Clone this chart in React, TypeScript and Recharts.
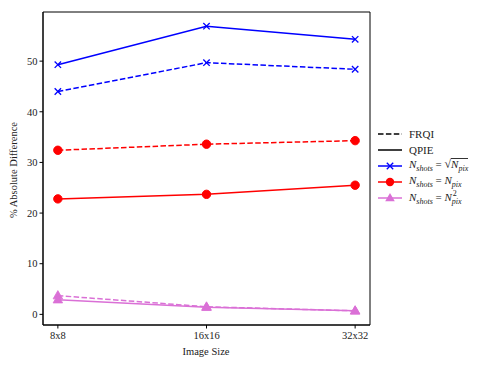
import React from 'react';
import { LineChart, Line, XAxis, YAxis, Legend, Label, ReferenceArea } from 'recharts';

const categories = ['8x8', '16x16', '32x32'];
const yTicks = [0, 10, 20, 30, 40, 50];
const qpieSqrt = [49.3, 56.9, 54.3];
const frqiSqrt = [44.0, 49.7, 48.4];
const qpieLin = [22.8, 23.7, 25.5];
const frqiLin = [32.4, 33.6, 34.3];
const qpieSq = [2.9, 1.4, 0.7];
const frqiSq = [3.7, 1.5, 0.7];

const data = categories.map((c, i) => ({
  idx: i,
  cat: c,
  qpieSqrt: qpieSqrt[i],
  frqiSqrt: frqiSqrt[i],
  qpieLin: qpieLin[i],
  frqiLin: frqiLin[i],
  qpieSq: qpieSq[i],
  frqiSq: frqiSq[i],
}));

const X_DOMAIN: [number, number] = [-0.1, 2.1];
const Y_DOMAIN: [number, number] = [-2.1, 59.7];

const BLUE = '#0000ff';
const RED = '#ff0000';
const PINK = '#da70d6';
const FONT = '"Liberation Serif", "DejaVu Serif", serif';
const DASH = '5.5 2.4';

const XMark = (props: any) => {
  const { cx, cy } = props;
  if (cx == null || cy == null) return <g />;
  const s = 3.2;
  return (
    <g>
      <line x1={cx - s} y1={cy - s} x2={cx + s} y2={cy + s} stroke={BLUE} strokeWidth={1.3} />
      <line x1={cx - s} y1={cy + s} x2={cx + s} y2={cy - s} stroke={BLUE} strokeWidth={1.3} />
    </g>
  );
};

const CircleMark = (props: any) => {
  const { cx, cy } = props;
  if (cx == null || cy == null) return <g />;
  return <circle cx={cx} cy={cy} r={4.2} fill={RED} stroke={RED} />;
};

const TriMark = (props: any) => {
  const { cx, cy } = props;
  if (cx == null || cy == null) return <g />;
  const r = 5;
  const pts = `${cx},${cy - r} ${cx - r * 0.95},${cy + r * 0.65} ${cx + r * 0.95},${cy + r * 0.65}`;
  return <polygon points={pts} fill={PINK} stroke={PINK} strokeWidth={0.8} />;
};

const Sub = ({ children }: any) => (
  <span style={{ fontSize: 8, verticalAlign: -2.5 }}>{children}</span>
);

const legendRows = [
  { key: 'frqi', color: '#000', dash: DASH, marker: null, label: <span>FRQI</span> },
  { key: 'qpie', color: '#000', dash: undefined, marker: null, label: <span>QPIE</span> },
  {
    key: 'sqrt', color: BLUE, dash: undefined, marker: 'x',
    label: (
      <span>
        <i>N</i><Sub><i>shots</i></Sub> = <span style={{ fontSize: 12 }}>√</span>
        <span style={{ borderTop: '0.8px solid #333', display: 'inline-block', lineHeight: '11px' }}><i>N</i><Sub><i>pix</i></Sub></span>
      </span>
    ),
  },
  {
    key: 'lin', color: RED, dash: undefined, marker: 'o',
    label: (<span><i>N</i><Sub><i>shots</i></Sub> = <i>N</i><Sub><i>pix</i></Sub></span>),
  },
  {
    key: 'sq', color: PINK, dash: undefined, marker: '^',
    label: (
      <span>
        <i>N</i><Sub><i>shots</i></Sub> = <i>N</i>
        <span style={{ display: 'inline-block', width: 0, fontSize: 8, verticalAlign: 4.5, overflow: 'visible', lineHeight: '8px' }}>
          <span style={{ paddingLeft: 1 }}>2</span>
        </span>
        <Sub><i>pix</i></Sub>
      </span>
    ),
  },
];

const renderLegend = () => (
  <div style={{ fontFamily: FONT, fontSize: 11, color: '#222' }}>
    {legendRows.map((r) => (
      <div key={r.key} style={{ display: 'flex', alignItems: 'center', height: 15.9 }}>
        <svg width={28} height={12} style={{ flex: 'none' }}>
          <line x1={2} y1={6} x2={26} y2={6} stroke={r.color} strokeWidth={1.5} strokeDasharray={r.dash} />
          {r.marker === 'x' && (
            <g>
              <line x1={10.8} y1={2.8} x2={17.2} y2={9.2} stroke={BLUE} strokeWidth={1.3} />
              <line x1={10.8} y1={9.2} x2={17.2} y2={2.8} stroke={BLUE} strokeWidth={1.3} />
            </g>
          )}
          {r.marker === 'o' && <circle cx={14} cy={6} r={4.2} fill={RED} />}
          {r.marker === '^' && <polygon points="14,1 9.2,9.3 18.8,9.3" fill={PINK} />}
        </svg>
        <div style={{ marginLeft: 5, whiteSpace: 'nowrap' }}>{r.label}</div>
      </div>
    ))}
  </div>
);

const tickStyle = { fontSize: 10.5, fill: '#222', style: { fontFamily: FONT } };

export default function App() {
  return (
    <div style={{ position: 'absolute', left: 0, top: 0, background: '#fff', fontFamily: FONT }}>
      <LineChart
        width={490}
        height={368}
        data={data}
        margin={{ top: 12, right: 120, bottom: 0, left: 0 }}
        style={{ fontFamily: FONT }}
      >
        <XAxis
          dataKey="idx"
          type="number"
          domain={X_DOMAIN}
          ticks={[0, 1, 2]}
          tickFormatter={(v: number) => categories[v]}
          height={43}
          tickSize={3.5}
          tickMargin={3}
          axisLine={{ stroke: '#000', strokeWidth: 1 }}
          tickLine={{ stroke: '#000' }}
          tick={tickStyle}
          allowDataOverflow
        >
          <Label
            content={() => (
              <text x={206} y={355} textAnchor="middle" fontSize={10.5} fill="#222" style={{ fontFamily: FONT }}>
                Image Size
              </text>
            )}
          />
        </XAxis>
        <YAxis
          type="number"
          domain={Y_DOMAIN}
          ticks={yTicks}
          width={43}
          tickSize={3.5}
          tickMargin={2}
          axisLine={{ stroke: '#000', strokeWidth: 1 }}
          tickLine={{ stroke: '#000' }}
          tick={tickStyle}
          allowDataOverflow
        >
          <Label
            content={() => (
              <text x={17} y={170} textAnchor="middle" transform="rotate(-90 17 170)" fontSize={10.5} fill="#222" style={{ fontFamily: FONT }}>
                % Absolute Difference
              </text>
            )}
          />
        </YAxis>
        <ReferenceArea x1={X_DOMAIN[0]} x2={X_DOMAIN[1]} y1={Y_DOMAIN[0]} y2={Y_DOMAIN[1]} fill="none" fillOpacity={0} stroke="#000" strokeWidth={1} ifOverflow="visible" />
        <Legend
          layout="horizontal"
          align="center"
          verticalAlign="middle"
          content={renderLegend}
          wrapperStyle={{ left: 376, top: 126, width: 114, bottom: 'auto' }}
        />
        <Line dataKey="qpieSqrt" stroke={BLUE} strokeWidth={1.5} dot={<XMark />} isAnimationActive={false} />
        <Line dataKey="frqiSqrt" stroke={BLUE} strokeWidth={1.5} strokeDasharray={DASH} dot={<XMark />} isAnimationActive={false} />
        <Line dataKey="frqiLin" stroke={RED} strokeWidth={1.5} strokeDasharray={DASH} dot={<CircleMark />} isAnimationActive={false} />
        <Line dataKey="qpieLin" stroke={RED} strokeWidth={1.5} dot={<CircleMark />} isAnimationActive={false} />
        <Line dataKey="frqiSq" stroke={PINK} strokeWidth={1.5} strokeDasharray={DASH} dot={<TriMark />} isAnimationActive={false} />
        <Line dataKey="qpieSq" stroke={PINK} strokeWidth={1.5} dot={<TriMark />} isAnimationActive={false} />
      </LineChart>
    </div>
  );
}
